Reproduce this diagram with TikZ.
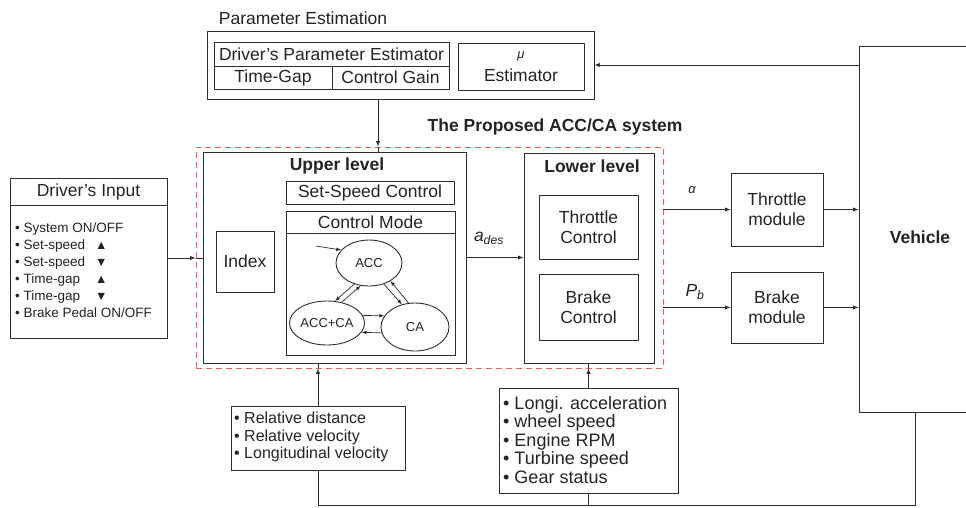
\documentclass[tikz,border=0pt]{standalone}
\usepackage{fontspec}
\setmainfont{Liberation Sans}
\usepackage{xcolor}
\usetikzlibrary{arrows}
\usetikzlibrary{positioning}
\usetikzlibrary{shapes.geometric}

\newcommand{\txtmain}{\fontsize{17.5}{20}\selectfont}
\newcommand{\txtsmall}{\fontsize{13}{15}\selectfont}
\newcommand{\txtlist}{\fontsize{13.5}{17}\selectfont}
\newcommand{\txtrel}{\fontsize{16}{17.5}\selectfont}
\newcommand{\txtsens}{\fontsize{18}{18.5}\selectfont}
\newcommand{\tri}{\fontsize{12.5}{12.5}\selectfont}

\begin{document}
\begin{tikzpicture}[x=1pt, y=-1pt, >=latex,
	blk/.style={draw=LINE, line width=0.9pt, inner sep=0pt, text=TXT, font=\txtmain, align=center},
	mode/.style={ellipse, draw=LINE, line width=0.9pt, inner sep=0pt, text=TXT, font=\txtsmall},
	sig/.style={->, draw=LINE, line width=0.9pt},
	wire/.style={-, draw=LINE, line width=0.9pt},
	lbl/.style={text=TXT, inner sep=0pt}]
			\definecolor{LINE}{RGB}{45, 45, 45}
			\definecolor{TXT}{RGB}{35, 35, 35}
			\definecolor{RED}{RGB}{235, 95, 95}
			\useasboundingbox (0, 0) rectangle (966, 507);
			\clip (0, 0) rectangle (966, 507);
			% parameter estimation
			\node[lbl, font=\txtmain] (pelabel) at (303, 18) {Parameter Estimation};
			\node[blk, minimum width=387, minimum height=68] (parambox) at (400.5, 65) {};
			\node[blk, minimum width=235, minimum height=24] (dpe) at (331.5, 54) {Driver's Parameter Estimator};
			\node[blk, minimum width=118, minimum height=23] (timegap) at (273, 77.5) {Time-Gap};
			\node[blk, minimum width=117, minimum height=23] (ctrlgain) at (390.5, 77.5) {Control Gain};
			\node[blk, minimum width=126, minimum height=47] (muest) at (521, 66.5) {{\txtsmall\itshape μ}\\[3pt]Estimator};
			\node[lbl, font=\txtmain\bfseries] (syslabel) at (555, 127) {The Proposed ACC/CA system};
			% proposed system
			\node[draw=RED, line width=0.8pt, dash pattern=on 6pt off 4pt, inner sep=0pt, minimum width=467, minimum height=221] (acccasys) at (429.5, 257.5) {};
			\node[blk, minimum width=263, minimum height=211] (upper) at (334.5, 257.5) {};
			\node[lbl, font=\txtmain\bfseries] (upperlabel) at (337, 166) {Upper level};
			\node[blk, minimum width=168, minimum height=23] (setspeed) at (370, 192.5) {Set-Speed Control};
			\node[blk, minimum width=169, minimum height=144] (ctrlmode) at (370.5, 283) {};
			\node[blk, minimum width=169, minimum height=22] (modehead) at (370.5, 222) {Control Mode};
			\node[blk, minimum width=58, minimum height=61] (index) at (245, 261.5) {Index};
			\node[mode, minimum width=66, minimum height=46] (acc) at (369, 263) {ACC};
			\node[mode, minimum width=70, minimum height=44] (acca) at (327, 323) {ACC+CA};
			\node[mode, minimum width=68, minimum height=48] (ca) at (415, 327) {CA};
			\coordinate (accinit) at (316, 246);
			\node[blk, minimum width=130, minimum height=210] (lower) at (589, 258) {};
			\node[lbl, font=\txtmain\bfseries] (lowerlabel) at (592, 166) {Lower level};
			\node[blk, minimum width=99, minimum height=64] (thrctrl) at (588.5, 227) {Throttle\\Control};
			\node[blk, minimum width=99, minimum height=66] (brkctrl) at (588.5, 307) {Brake\\Control};
			% actuators and vehicle
			\node[blk, minimum width=92, minimum height=73] (thrmod) at (777, 209.5) {Throttle\\module};
			\node[blk, minimum width=92, minimum height=71] (brkmod) at (777, 307.5) {Brake\\module};
			\node[blk, minimum width=122, minimum height=366] (veh) at (920, 229) {};
			\node[lbl, font=\txtmain\bfseries] (vehlabel) at (920, 237) {Vehicle};
			% inputs
			\node[blk, minimum width=157, minimum height=160] (drvin) at (88.5, 258) {};
			\node[blk, minimum width=157, minimum height=27] (drvhead) at (88.5, 191.5) {Driver's Input};
			\node[lbl, anchor=west, align=left, font=\txtlist] (drvitems) at (15, 270) {• System ON/OFF\\
				\makebox[80pt][l]{• Set-speed}{\tri ▲}\\
				\makebox[80pt][l]{• Set-speed}{\tri ▼}\\
				\makebox[80pt][l]{• Time-gap}{\tri ▲}\\
				\makebox[80pt][l]{• Time-gap}{\tri ▼}\\
				• Brake Pedal ON/OFF};
			\node[blk, minimum width=174, minimum height=64] (relbox) at (318, 438) {};
			\node[lbl, anchor=west, align=left, font=\txtrel] (relitems) at (234, 437) {• Relative distance\\• Relative velocity\\• Longitudinal velocity};
			\node[blk, minimum width=179, minimum height=105] (sensbox) at (588.5, 440.5) {};
			\node[lbl, anchor=west, align=left, font=\txtsens] (sensitems) at (503, 440) {• Longi. acceleration\\• wheel speed\\• Engine RPM\\• Turbine speed\\• Gear status};
			% signal labels
			\node[lbl, font=\txtmain\itshape] (adeslabel) at (489, 238) {a\textsubscript{des}};
			\node[lbl, font=\txtsmall\itshape] (alphalabel) at (692, 190) {α};
			\node[lbl, font=\txtmain\itshape] (pblabel) at (695, 292) {P\textsubscript{b}};
			% connectors
			\draw[sig] (drvin.east) to (drvin.east -| acccasys.west);
			\draw[wire] (drvin.east -| acccasys.west) to (drvin.east -| upper.west);
			\draw[sig] (upper.east) to (upper.east -| lower.west);
			\draw[sig] (thrmod.west -| acccasys.east) to (thrmod.west);
			\draw[sig] (brkmod.west -| acccasys.east) to (brkmod.west);
			\draw[sig] (thrmod.east) to (thrmod.east -| veh.west);
			\draw[sig] (brkmod.east) to (brkmod.east -| veh.west);
			\draw[sig] (parambox.east -| veh.west) to (parambox.east);
			\coordinate (pedrop) at ([xshift=-22.5pt]parambox.south);
			\draw[sig] (pedrop) to (pedrop |- acccasys.north);
			\draw[wire] (pedrop |- acccasys.north) to (pedrop |- upper.north);
			\draw[sig] (relbox.north) to (relbox.north |- acccasys.south);
			\draw[wire] (relbox.north |- acccasys.south) to (relbox.north |- upper.south);
			\draw[sig] (sensbox.north) to (sensbox.north |- acccasys.south);
			\draw[wire] (sensbox.north |- acccasys.south) to (sensbox.north |- lower.south);
			\coordinate (vehout) at ([xshift=-5pt]veh.south);
			\draw[wire] (vehout) -- ++(0, 93) -| (relbox.south);
			\draw[wire] (sensbox.south) -- ++(0, 12);
			% mode transitions
			\draw[sig, line width=0.7pt] (accinit) to (acc.155);
			\draw[sig, line width=0.7pt] (acc.235) to (acca.70);
			\draw[sig, line width=0.7pt] (acca.55) to (acc.250);
			\draw[sig, line width=0.7pt] (acc.305) to (ca.120);
			\draw[sig, line width=0.7pt] (ca.105) to (acc.320);
			\draw[sig, line width=0.7pt] (acca.12) to (ca.160);
			\draw[sig, line width=0.7pt] (ca.190) to (acca.345);
		\end{tikzpicture}
\end{document}
